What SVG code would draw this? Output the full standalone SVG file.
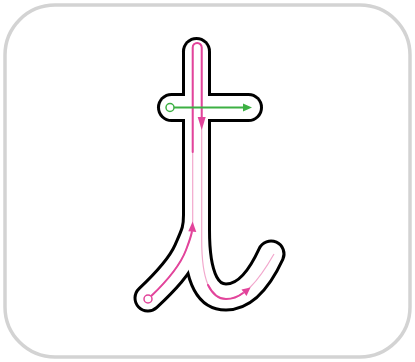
<svg xmlns="http://www.w3.org/2000/svg" width="415" height="362" viewBox="0 0 415 362">
<style>
.frame{fill:#fff;stroke:#d3d3d3;stroke-width:3.5}
.ol{fill:none;stroke:#000;stroke-width:29;stroke-linecap:round;stroke-linejoin:round}
.in{fill:none;stroke:#fff;stroke-width:23;stroke-linecap:round;stroke-linejoin:round}
.thin{fill:none;stroke:#f2a8cd;stroke-width:1.2}
.mag{fill:none;stroke:#e2449b;stroke-width:2;stroke-linecap:round}
.magf{fill:#e2449b}
.grn{fill:none;stroke:#3cb043;stroke-width:1.8}
</style>
<rect class="frame" x="5" y="5" width="405" height="352" rx="50"/>
<g id="letter">
<g>
<path class="ol" d="M196.5,51.5 V235"/>
<path class="ol" d="M171.5,107.5 H248.5"/>
<path class="ol" d="M148,298 C166,281 180,266 187,250 S196.5,230 196.5,215"/>
<path class="ol" d="M196.5,230 C196.5,282 210,297 226,297 C244,297 259,280 271,254"/>
</g>
<g>
<path class="in" d="M196.5,51.5 V235"/>
<path class="in" d="M171.5,107.5 H248.5"/>
<path class="in" d="M148,298 C166,281 180,266 187,250 S196.5,230 196.5,215"/>
<path class="in" d="M196.5,230 C196.5,282 210,297 226,297 C244,297 259,280 271,254"/>
</g>
</g>
<g id="connectors">
<path class="thin" d="M148,299 C166,282 180,266 186,250 S192.7,232 192.7,220 V47.5 A4.5,4.5 0 0 1 201.7,47.5 V240 C201.7,285 212,299 226,299 C243,299 258,282 274,254"/>
<path class="mag" d="M151,296.3 C166,282 180,266 186,250 C189,242 191,237 191.8,232"/>
<path class="mag" d="M192.7,152 V47.5 A4.5,4.5 0 0 1 201.7,47.5 V120"/>
<path class="mag" d="M208,285 C213,295 219,299 226,299 C232,299 238,297 243,293"/>
<polygon class="magf" points="192.6,221.5 196.3,232 188.3,231.3"/>
<polygon class="magf" points="201.7,130 197.7,117 205.7,117"/>
<polygon class="magf" points="250.5,287.5 246.5,296 241.5,289.5"/>
<circle cx="148" cy="299" r="4" fill="#fff" stroke="#e2449b" stroke-width="1.5"/>
<line class="grn" x1="174" y1="107.5" x2="244" y2="107.5"/>
<polygon fill="#3cb043" points="252,107.5 243,103.5 243,111.5"/>
<circle cx="170" cy="107.5" r="4" fill="#fff" stroke="#3cb043" stroke-width="1.5"/>
</g>
</svg>
